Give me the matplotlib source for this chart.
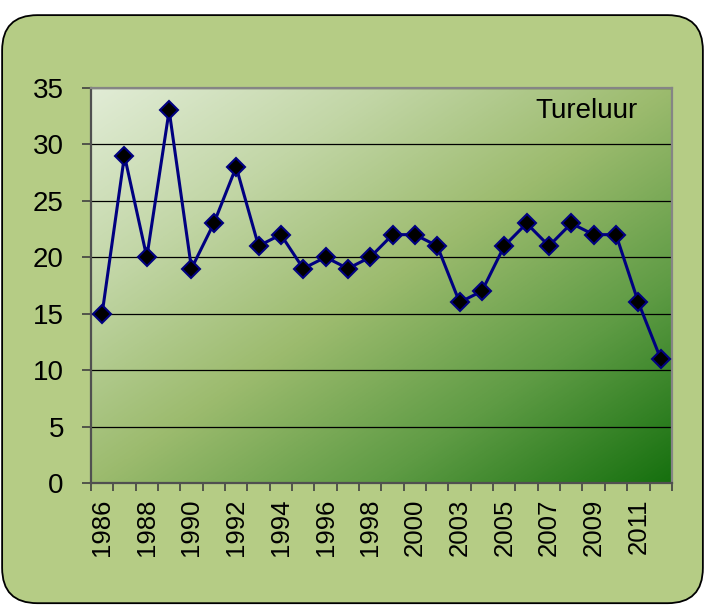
import numpy as np
import matplotlib.pyplot as plt
from matplotlib.colors import LinearSegmentedColormap
from matplotlib.patches import FancyBboxPatch

plt.rcParams['font.family'] = ['Liberation Sans', 'DejaVu Sans']

# Counts per year (one year is missing between 2000 and 2003)
years = ['1986', '1987', '1988', '1989', '1990', '1991', '1992', '1993', '1994',
         '1995', '1996', '1997', '1998', '1999', '2000', '2002', '2003', '2004',
         '2005', '2006', '2007', '2008', '2009', '2010', '2011', '2012']
counts = [15, 29, 20, 33, 19, 23, 28, 21, 22, 19, 20, 19, 20, 22, 22, 21,
          16, 17, 21, 23, 21, 23, 22, 22, 16, 11]
species = 'Tureluur'

fig = plt.figure(figsize=(7.05, 6.05), dpi=100)

# rounded outer panel
panel = FancyBboxPatch((0.003, 0.003), 0.994, 0.972,
                       boxstyle='round,pad=0,rounding_size=0.05',
                       transform=fig.transFigure, facecolor='#B5CC85',
                       edgecolor='black', linewidth=1.3, zorder=-5,
                       mutation_aspect=705 / 605)
fig.patches.append(panel)

ax = fig.add_axes([0.129, 0.2017, 0.824, 0.653])
ax.set_facecolor('none')

# diagonal gradient background
n = 300
xx, yy = np.meshgrid(np.linspace(0, 1, n), np.linspace(0, 1, n))
t = (xx + yy) / 2
cmap = LinearSegmentedColormap.from_list(
    'grn', ['#E1ECD6', '#C2D6A6', '#9CBB6E', '#5E9B44', '#16700F'])
ax.imshow(t, cmap=cmap, extent=[0, 1, 0, 1], origin='upper',
          transform=ax.transAxes, aspect='auto', zorder=0)

x = np.arange(len(years))
ax.plot(x, counts, color='#000080', linewidth=2.2, marker='D',
        markersize=9.5, markerfacecolor='black', markeredgecolor='#000080',
        markeredgewidth=1.5, zorder=3, clip_on=False)

ax.set_xlim(-0.5, len(years) - 0.5)
ax.set_ylim(0, 35)
ax.set_yticks(np.arange(0, 36, 5))
ax.yaxis.grid(True, color='black', linewidth=0.9, zorder=1)
ax.set_axisbelow(True)

ax.set_xticks(x[::2])
ax.set_xticklabels(years[::2], rotation=90, fontsize=18.5)
ax.set_xticks(np.arange(-0.5, len(years)), minor=True)
ax.tick_params(axis='x', which='major', length=0, pad=11)
ax.tick_params(axis='x', which='minor', length=5.5, width=1.2, color='#404040', direction='out')
ax.tick_params(axis='y', length=6.5, width=1.2, color='#404040', labelsize=20, pad=13)

for s in ['left', 'bottom']:
    ax.spines[s].set_color('#505050')
    ax.spines[s].set_linewidth(1.6)
for s in ['top', 'right']:
    ax.spines[s].set_color('#858585')
    ax.spines[s].set_linewidth(1.6)

ax.text(0.9415, 0.942, species, transform=ax.transAxes, ha='right', va='center',
        fontsize=20, zorder=4)

fig.savefig('out.png', dpi=100)
